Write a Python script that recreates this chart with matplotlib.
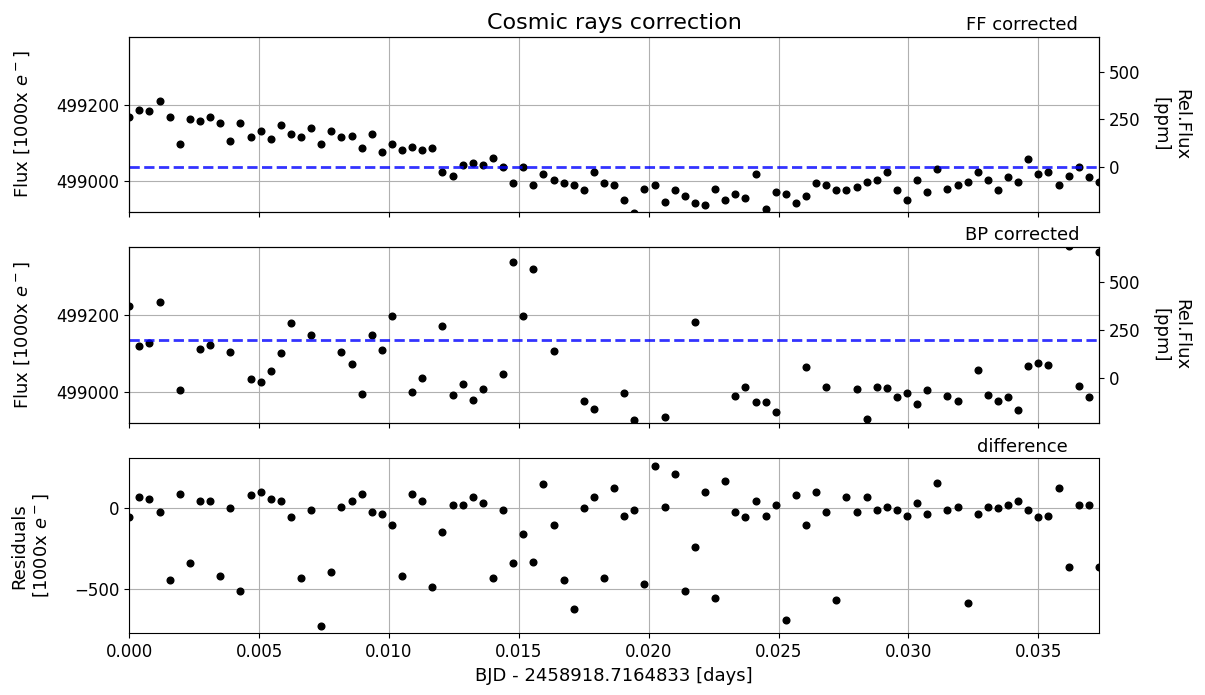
import numpy as np
import matplotlib
matplotlib.use("Agg")
import matplotlib.pyplot as plt

# Exposure cadence (days) and time offset
cadence_days = 33.6 / 86400.0
bjd_offset = "2458918.7164833"

# Flux after flat-field correction [1000 x e-]
ff_flux = [
    499167, 499186, 499182, 499210, 499167, 499096, 499162, 499157, 499167, 499153,
    499105, 499153, 499115, 499130, 499110, 499148, 499124, 499115, 499138, 499096,
    499130, 499115, 499119, 499086, 499124, 499077, 499096, 499082, 499090, 499082,
    499086, 499023, 499015, 499043, 499047, 499043, 499062, 499038, 498995, 499038,
    498990, 499019, 499004, 498995, 498990, 498976, 499023, 498995, 498990, 498952,
    498918, 498981, 498990, 498947, 498976, 498962, 498943, 498937, 498981, 498952,
    498966, 498957, 499019, 498928, 498971, 498966, 498943, 498962, 498995, 498990,
    498976, 498976, 498985, 498999, 499004, 499023, 498976, 498952, 499004, 498971,
    499033, 498981, 498990, 498999, 499023, 499004, 498976, 499010, 498999, 499057,
    499019, 499023, 498990, 499014, 499038, 499010, 498999,
]

# Flux after bad-pixel correction [1000 x e-]
bp_flux = [
    499223, 499118, 499126, 499233, 499611, 499005, 499504, 499111, 499121, 499574,
    499105, 499666, 499034, 499026, 499054, 499102, 499180, 499549, 499148, 499824,
    499528, 499103, 499073, 498995, 499147, 499110, 499198, 499503, 498999, 499036,
    499576, 499170, 498992, 499020, 498979, 499008, 499496, 499048, 499337, 499198,
    499320, 498870, 499106, 499439, 499617, 498976, 498955, 499429, 498863, 498998,
    498928, 499448, 498729, 498935, 498760, 499475, 499182, 498833, 499539, 498782,
    498989, 499013, 498973, 498974, 498948, 499661, 498862, 499064, 498891, 499013,
    499545, 498908, 499008, 498931, 499014, 499011, 498986, 498998, 498969, 499004,
    498873, 498991, 498978, 499590, 499056, 498992, 498976, 498987, 498953, 499067,
    499075, 499069, 498863, 499379, 499015, 498987, 499364,
]

ff = np.array(ff_flux, dtype=float)
bp = np.array(bp_flux, dtype=float)
t = np.arange(len(ff)) * cadence_days
residuals = ff - bp

flux_ylim = (498920, 499376)
ref = ff.mean()


def to_ppm(v):
    return (np.asarray(v) / ref - 1.0) * 1e6


plt.rcParams["font.size"] = 13
plt.rcParams["xtick.labelsize"] = 12
plt.rcParams["ytick.labelsize"] = 12

fig = plt.figure(figsize=(12.05, 6.95), dpi=100)
left, width = 0.1073, 0.8047
ax1 = fig.add_axes([left, 0.695, width, 0.2517])
ax2 = fig.add_axes([left, 0.3915, width, 0.2532], sharex=ax1)
ax3 = fig.add_axes([left, 0.0885, width, 0.2518], sharex=ax1)

flux_label = r"Flux [1000x $e^-$]"


def panel_tag(ax, text):
    ax.annotate(text, xy=(0.921, 1.0), xycoords="axes fraction",
                xytext=(0, 5), textcoords="offset points",
                ha="center", va="baseline", fontsize=13)


for ax, data, tag in ((ax1, ff, "FF corrected"), (ax2, bp, "BP corrected")):
    ax.plot(t, data, "o", color="k", ms=4.8)
    ax.axhline(data.mean(), color="b", ls="--", lw=2, alpha=0.8)
    ax.set_ylim(*flux_ylim)
    ax.set_yticks([499000, 499200])
    ax.grid(True)
    ax.set_ylabel(flux_label)
    ax.yaxis.set_label_coords(-0.1003, 0.5)
    panel_tag(ax, tag)
    ax.tick_params(labelbottom=False)
    axr = ax.twinx()
    axr.set_ylim(*to_ppm(flux_ylim))
    axr.set_yticks([0, 250, 500])
    axr.set_ylabel("Rel.Flux\n[ppm]", rotation=270, va="bottom", labelpad=8)

ax1.set_title("Cosmic rays correction", fontsize=16)

ax3.plot(t, residuals, "o", color="k", ms=4.8)
ax3.set_yticks([-500, 0])
ax3.grid(True)
ax3.set_ylabel("Residuals\n" + r"[1000x $e^-$]")
ax3.yaxis.set_label_coords(-0.0807, 0.5)
panel_tag(ax3, "difference")
ax3.set_xlim(t[0], t[-1])
ax3.set_xlabel(f"BJD - {bjd_offset} [days]")

fig.savefig("out.png", dpi=100)
